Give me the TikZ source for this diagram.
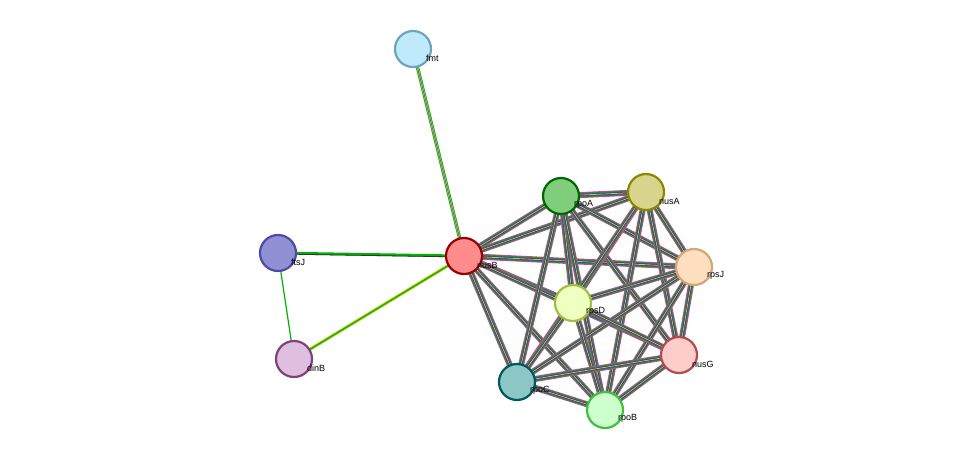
\documentclass[tikz,border=0pt]{standalone}
\usepackage{fontspec}
\setmainfont{Liberation Sans}
\usetikzlibrary{positioning}
\tikzstyle{protein}=[circle, draw, minimum size=36pt, line width=2.2pt, inner sep=0pt]
\tikzstyle{protlabel}=[font=\fontsize{9pt}{10pt}\selectfont, inner sep=1pt]
\newcommand{\stringedge}[2]{%
  \draw[line width=6pt, magenta!80] (#1) -- (#2);
  \draw[line width=4.6pt, green!70!black] (#1) -- (#2);
  \draw[line width=3.2pt, blue!70] (#1) -- (#2);
  \draw[line width=1.8pt, black!80] (#1) -- (#2);
  \draw[line width=0.8pt, yellow!80!black] (#1) -- (#2);}
\begin{document}
\begin{tikzpicture}[x=1pt, y=-1pt]
  \useasboundingbox (0,0) rectangle (976,456);
  % positions
  \coordinate (fmt)  at (413,49);
  \coordinate (ftsJ) at (278,253);
  \coordinate (dinB) at (294,359);
  \coordinate (nusB) at (464,256);
  \coordinate (rpoA) at (561,196);
  \coordinate (nusA) at (646,192);
  \coordinate (rpsJ) at (694,267);
  \coordinate (rpsD) at (573,303);
  \coordinate (nusG) at (679,355);
  \coordinate (rpoC) at (517,382);
  \coordinate (rpoB) at (605,410);
  % edges
  \draw[line width=3.4pt, green!70!black] (fmt) -- (nusB);
  \draw[line width=1.8pt, yellow!80!black] (fmt) -- (nusB);
  \draw[line width=0.6pt, blue!70] (fmt) -- (nusB);
  \draw[line width=2.8pt, green!70!black] (ftsJ) -- (nusB);
  \draw[line width=0.8pt, black!80] ([yshift=-1pt]ftsJ) -- ([yshift=-1pt]nusB);
  \draw[line width=3.2pt, yellow!80!black] (dinB) -- (nusB);
  \draw[line width=1.2pt, green!70!black] (dinB) -- (nusB);
  \draw[line width=1.2pt, green!70!black] (ftsJ) -- (dinB);
  \foreach \a/\b in {nusB/rpoA,nusB/nusA,nusB/rpsJ,nusB/rpsD,nusB/nusG,nusB/rpoC,nusB/rpoB,
      rpoA/nusA,rpoA/rpsJ,rpoA/rpsD,rpoA/nusG,rpoA/rpoC,rpoA/rpoB,
      nusA/rpsJ,nusA/rpsD,nusA/nusG,nusA/rpoC,nusA/rpoB,
      rpsJ/rpsD,rpsJ/nusG,rpsJ/rpoC,rpsJ/rpoB,
      rpsD/nusG,rpsD/rpoC,rpsD/rpoB,nusG/rpoC,nusG/rpoB,rpoC/rpoB}
    {\stringedge{\a}{\b}}
  % proteins
  \node[protein, fill=cyan!25, draw=cyan!40!gray] (nfmt) at (fmt) {};
  \node[protein, fill=blue!45!gray!60, draw=blue!50!black!70] (nftsJ) at (ftsJ) {};
  \node[protein, fill=violet!25, draw=violet!50!gray] (ndinB) at (dinB) {};
  \node[protein, fill=red!45, draw=red!60!black] (nnusB) at (nusB) {};
  \node[protein, fill=green!45!gray!70, draw=green!40!black] (nrpoA) at (rpoA) {};
  \node[protein, fill=yellow!50!gray!70, draw=olive] (nnusA) at (nusA) {};
  \node[protein, fill=orange!25, draw=brown!70] (nrpsJ) at (rpsJ) {};
  \node[protein, fill=lime!25, draw=lime!50!gray] (nrpsD) at (rpsD) {};
  \node[protein, fill=red!20, draw=red!40!gray] (nnusG) at (nusG) {};
  \node[protein, fill=teal!45, draw=teal!70!black] (nrpoC) at (rpoC) {};
  \node[protein, fill=green!20, draw=green!50!gray] (nrpoB) at (rpoB) {};
  % labels
  \foreach \n in {fmt,ftsJ,dinB,nusB,rpoA,nusA,rpsJ,rpsD,nusG,rpoC,rpoB}
    \node[protlabel, anchor=south west] (l\n) at ([xshift=12pt,yshift=-14pt]\n) {\n};
\end{tikzpicture}
\end{document}
